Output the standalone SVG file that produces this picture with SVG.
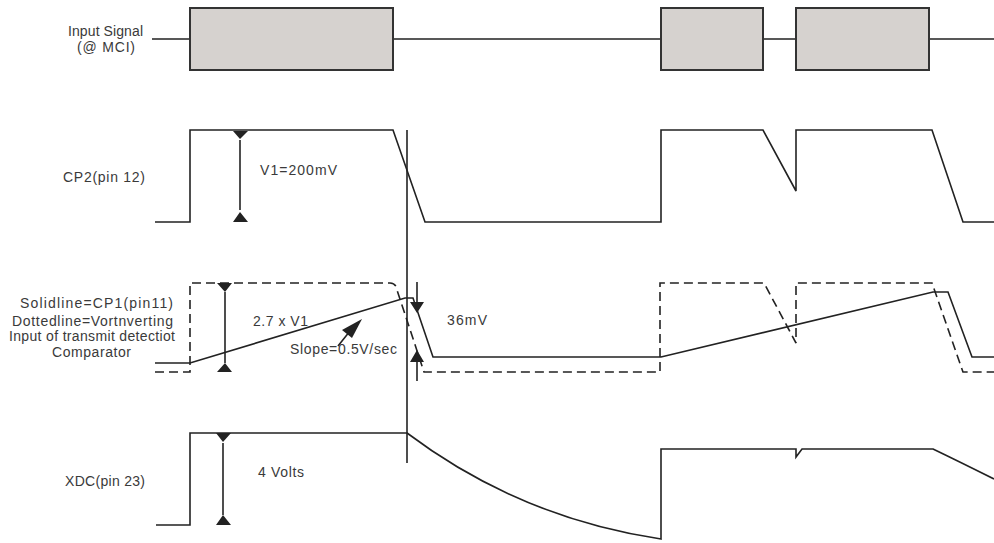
<svg xmlns="http://www.w3.org/2000/svg" width="994" height="543" viewBox="0 0 994 543">
<style>
.w{fill:none;stroke:#222;stroke-width:1.6;stroke-linejoin:miter}
.d{fill:none;stroke:#222;stroke-width:1.6;stroke-dasharray:9 5}
.box{fill:#d6d2cf;stroke:#333;stroke-width:2}
.ah{fill:#222;stroke:none}
text{font-family:"Liberation Sans",Arial,sans-serif;font-size:14px;fill:#3a3a3a}
</style>
<rect width="994" height="543" fill="#fff"/>
<g id="labels">
<text x="68" y="36" textLength="75">Input Signal</text>
<text x="77" y="52" textLength="58">(@ MCI)</text>
<text x="63" y="182" textLength="82">CP2(pin 12)</text>
<text x="20" y="308" textLength="153">Solidline=CP1(pin11)</text>
<text x="12" y="326" textLength="161">Dottedline=Vortnverting</text>
<text x="9" y="341" textLength="166">Input of transmit detectiot</text>
<text x="52" y="357" textLength="79">Comparator</text>
<text x="65" y="486" textLength="80">XDC(pin 23)</text>
</g>
<g id="input-signal">
<path class="w" d="M152,39 H190 M393,39 H661 M763,39 H796 M929,39 H994"/>
<rect class="box" x="190" y="8" width="203" height="62"/>
<rect class="box" x="661" y="8" width="102" height="62"/>
<rect class="box" x="796" y="8" width="133" height="62"/>
</g>
<g id="cp2">
<path class="w" d="M155,222 H190 V130 H393 L425,222 H661 V130 H763 L796,191 V130 H932 L963,222 H994"/>
<path class="w" d="M240,140 V210"/>
<path class="ah" d="M233,131 H248 L240,139 Z M233,222 H248 L240,212 Z"/>
<text x="260" y="175" textLength="77">V1=200mV</text>
</g>
<g id="cp1">
<path class="d" d="M155,372 H190 V283 H390 Q396,283 397,290 L424,372 H660 V283 H764 L788,328 L796,343 V283 H932 L963,372 H994"/>
<path class="w" d="M155,363 H190 L405,298 H413 L433,357 H661 L933,292 H948 L972,357 H994"/>
<path class="w" d="M225,292 V363"/>
<path class="ah" d="M217,283 H232 L225,292 Z M217,372 H232 L225,363 Z"/>
<text x="253" y="326" textLength="55">2.7 x V1</text>
<path class="w" d="M338,346 L350,331"/>
<path class="ah" d="M362,319 L342,330 L352,338 Z"/>
<text x="290" y="354" textLength="107">Slope=0.5V/sec</text>
<path class="w" d="M417,282 V303 M417,361 V381"/>
<path class="ah" d="M410,302 H424 L417,313 Z M410,362 H424 L417,350 Z"/>
<text x="447" y="325" textLength="40">36mV</text>
</g>
<g id="xdc">
<path class="w" d="M156,525 H190 V433 H407 Q520,518 661,539 V449 H796 V457 L802,449 H933 Q960,462 994,479"/>
<path class="w" d="M223,443 V515"/>
<path class="ah" d="M216,433 H231 L223,442 Z M216,525 H231 L223,515 Z"/>
<text x="258" y="477" textLength="46">4 Volts</text>
</g>
<g id="connectors">
<path class="w" d="M407,130 V463"/>
</g>
</svg>
